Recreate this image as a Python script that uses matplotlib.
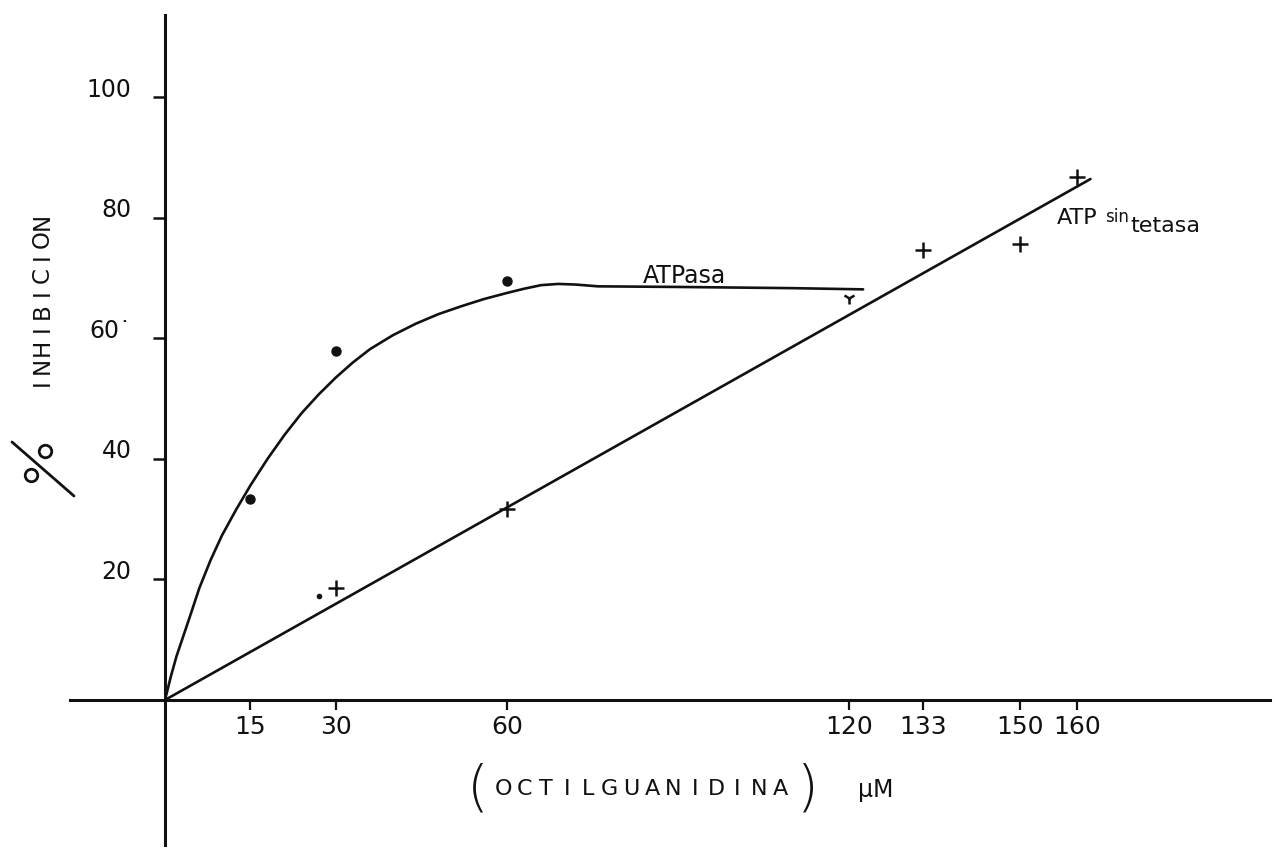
import matplotlib
matplotlib.use("Agg")
import matplotlib.pyplot as plt
from matplotlib.lines import Line2D
from matplotlib.transforms import ScaledTranslation

# ---------------- data ----------------
x_ticks = [15, 30, 60, 120, 133, 150, 160]
x_tick_labels = ["15", "30", "60", "120", "133", "150", "160"]
y_ticks = [20, 40, 60, 80, 100]
y_tick_labels = ["20", "40", "60˙", "80", "100"]

# ATPasa measured points (dots)
atpasa_x = [15, 30, 60]
atpasa_y = [33.3, 57.9, 69.5]
# odd mark at 120
atpasa_mark_x = [120]
atpasa_mark_y = [66.7]
# stray dot near 27
stray_x = [27.1]
stray_y = [17.3]

# ATPasa hand-drawn curve
atpasa_curve_x = [0, 0.4, 1, 2, 3, 4.5, 6, 8, 10, 12.5, 15, 18, 21, 24, 27, 30, 33, 36,
                  40, 44, 48, 52, 56, 60, 63, 66, 69, 72, 76, 90, 110, 122.5]
atpasa_curve_y = [0, 1.5, 3.8, 7.2, 10.0, 14.2, 18.5, 23.2, 27.3, 31.6, 35.6, 40.0, 44.0,
                  47.6, 50.7, 53.5, 56.0, 58.2, 60.5, 62.4, 64.0, 65.3, 66.5, 67.5, 68.2,
                  68.8, 69.0, 68.9, 68.6, 68.5, 68.3, 68.1]

# ATP sintetasa points (+) and fitted line
sint_x = [30, 60, 133, 150, 160]
sint_y = [18.5, 31.6, 74.6, 75.7, 86.8]
sint_line_x = [0, 162.4]
sint_line_y = [0, 86.4]

# ---------------- figure ----------------
W, H = 1275, 849
fig = plt.figure(figsize=(W / 100, H / 100), dpi=100)
fig.patch.set_facecolor("white")

def fx(px):
    return px / W

def fy(py):
    return 1 - py / H

ax = fig.add_axes([fx(70), fy(845), (1270 - 70) / W, (845 - 15) / H])
ax.set_xlim(-16.67, 193.9)
ax.set_ylim(-24.05, 113.6)

for s in ["top", "right"]:
    ax.spines[s].set_visible(False)
for s in ["left", "bottom"]:
    ax.spines[s].set_position(("data", 0))
    ax.spines[s].set_linewidth(2.2)
    ax.spines[s].set_color("#111111")

ink = "#111111"
font = "DejaVu Sans"

ax.set_xticks(x_ticks)
ax.set_xticklabels(x_tick_labels, fontsize=18, family=font, color=ink)
ax.set_yticks(y_ticks)
ax.set_yticklabels(y_tick_labels, fontsize=17, family=font, color=ink)
ax.tick_params(axis="x", direction="out", length=7, width=1.6, pad=4, colors=ink)
ax.tick_params(axis="y", direction="out", length=9, width=1.8, pad=15, colors=ink)
for lab in ax.get_yticklabels():
    lab.set_transform(lab.get_transform() + ScaledTranslation(0, 0.10, fig.dpi_scale_trans))

# curves
ax.plot(atpasa_curve_x, atpasa_curve_y, color=ink, lw=1.9, solid_capstyle="round",
        solid_joinstyle="round")
ax.plot(sint_line_x, sint_line_y, color=ink, lw=1.9, solid_capstyle="round")

# points
ax.plot(atpasa_x, atpasa_y, "o", color=ink, ms=6.5, ls="none")
ax.plot(stray_x, stray_y, "o", color=ink, ms=3, ls="none")
ax.plot(atpasa_mark_x, atpasa_mark_y, marker="1", color=ink, ms=9, mew=1.8, ls="none")
ax.plot(sint_x, sint_y, "+", color=ink, ms=11, mew=1.8, ls="none")

# series labels
ax.text(83.9, 69.2, "ATPasa", fontsize=17, family=font, color=ink, ha="left", va="baseline")
ax.text(156.5, 78.9, "ATP", fontsize=16, family=font, color=ink, ha="left", va="baseline")
ax.text(165.0, 79.3, "sin", fontsize=12, family=font, color=ink, ha="left", va="baseline")
ax.text(169.4, 77.6, "tetasa", fontsize=16, family=font, color=ink, ha="left", va="baseline")

# y-axis label: rotated % and spaced INHIBICION
ylab = "INHIBICION"
y_bottom, y_top = 383, 221
for i, ch in enumerate(ylab):
    py = y_bottom - i * (y_bottom - y_top) / (len(ylab) - 1)
    fig.text(fx(42), fy(py), ch, rotation=90, fontsize=16.5, family=font, color=ink,
             ha="center", va="center")
fig.add_artist(Line2D([fx(12), fx(74)], [fy(442), fy(496)], transform=fig.transFigure,
                      color=ink, lw=2.0, solid_capstyle="round"))
fig.add_artist(Line2D([fx(45)], [fy(451)], transform=fig.transFigure, marker="o",
                      mfc="none", mec=ink, ms=9, mew=2.0, ls="none"))
fig.add_artist(Line2D([fx(31)], [fy(475)], transform=fig.transFigure, marker="o",
                      mfc="none", mec=ink, ms=9, mew=2.0, ls="none"))

# x-axis label: ( O C T I L G U A N I D I N A )  µM
xlab = "OCTILGUANIDINA"
x_first, x_last = 503, 780
for i, ch in enumerate(xlab):
    px = x_first + i * (x_last - x_first) / (len(xlab) - 1)
    fig.text(fx(px), fy(789), ch, fontsize=16, family=font, color=ink,
             ha="center", va="center")
fig.text(fx(478), fy(790), "(", fontsize=40, family=font, color=ink, ha="center",
         va="center", fontweight="light")
fig.text(fx(808), fy(790), ")", fontsize=40, family=font, color=ink, ha="center",
         va="center", fontweight="light")
fig.text(fx(876), fy(790), "µM", fontsize=17, family=font, color=ink, ha="center",
         va="center")

fig.savefig("out.png", dpi=100, facecolor="white")
